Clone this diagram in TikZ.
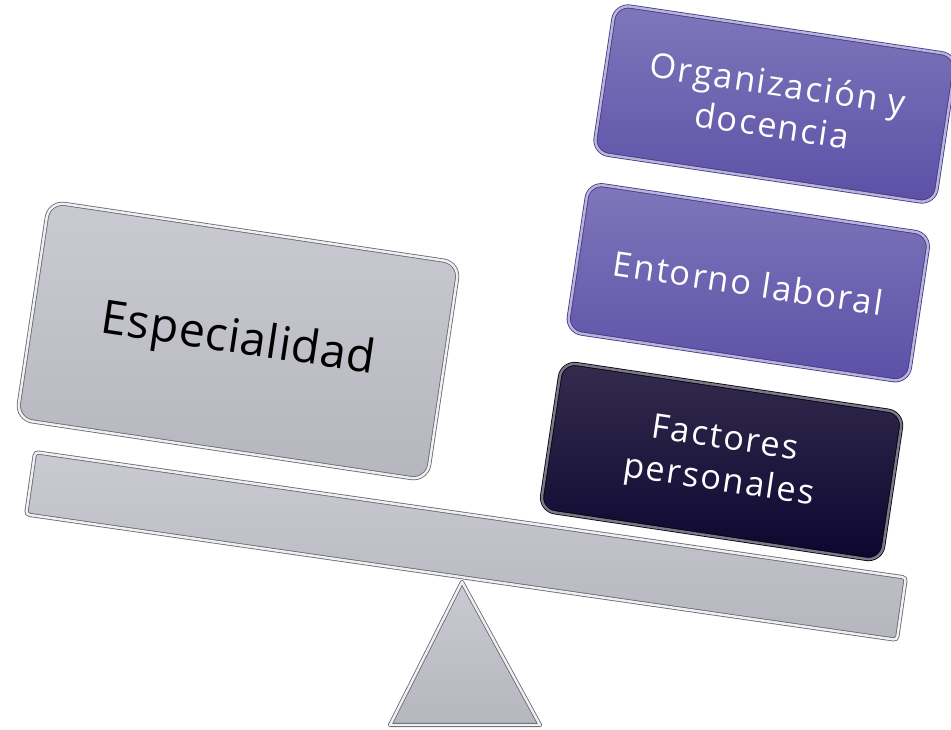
\documentclass[tikz,border=0pt]{standalone}
\usepackage{fontspec}
\setmainfont{Open Sans}
\newfontfamily\widefont[LetterSpace=5.5]{Open Sans}
\newfontfamily\loadfont[LetterSpace=1.5]{Open Sans}
\usetikzlibrary{positioning}

\definecolor{steelline}{HTML}{64646E}
\definecolor{steeltop}{HTML}{CACAD2}
\definecolor{steelbot}{HTML}{B6B6BE}
\definecolor{lilacline}{HTML}{403684}
\definecolor{lilactop}{HTML}{7F77BB}
\definecolor{lilacbot}{HTML}{5C50A6}
\definecolor{nighttop}{HTML}{342C4E}
\definecolor{nightbot}{HTML}{0C0630}

\tikzset{
  steel/.style={draw=steelline, line width=0.45pt, double=white!70!steeltop,
    double distance=1.4pt, top color=steeltop, bottom color=steelbot},
  bigweight/.style={steel, rounded corners=0.32cm, minimum width=8.3cm,
    minimum height=4.4cm, font=\loadfont\fontsize{26.5}{30}\selectfont},
  weight/.style={draw=lilacline, line width=0.45pt, double=lilactop!55!white,
    double distance=1.4pt, top color=lilactop, bottom color=lilacbot,
    rounded corners=0.3cm, minimum width=6.9cm, minimum height=3cm,
    align=center, text=white, font=\widefont\fontsize{19.5}{24}\selectfont},
  heavyweight/.style={weight, draw=black, double=nighttop!65!white,
    top color=nighttop, bottom color=nightbot},
  beam/.style={steel, rounded corners=2pt, minimum width=17.6cm,
    minimum height=1.26cm}
}

\begin{document}
\begin{tikzpicture}[x=0.02cm, y=0.02cm]
\newcommand{\tilt}{-8.5}
\useasboundingbox (0,0) rectangle (951,-730);
% fulcrum
\draw[steel, line join=round] (462,-582) -- (540,-725) -- (390,-725) -- cycle;
% beam and left load
\node[beam, rotate=-8.2] (beam) at (466,-546) {};
\node[bigweight, rotate=\tilt] (esp) at (238,-341) {Especialidad};
% right loads
\begin{scope}[shift={(775,-104)}, rotate=\tilt, transform shape, node distance=0.6cm]
  \node[weight] (org) at (0,0) {Organización y\\docencia};
  \node[weight, below=of org] (ent) {Entorno laboral};
  \node[heavyweight, below=of ent] (fac) {Factores\\personales};
\end{scope}
\end{tikzpicture}
\end{document}
